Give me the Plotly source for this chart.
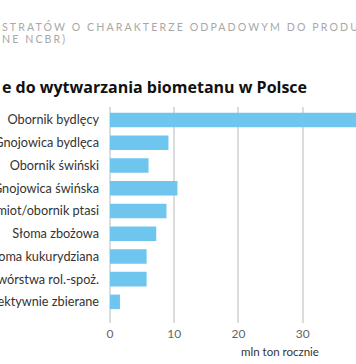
import plotly.graph_objects as go

categories = [
    "Obornik bydlęcy",
    "Gnojowica bydlęca",
    "Obornik świński",
    "Gnojowica świńska",
    "Pomiot/obornik ptasi",
    "Słoma zbożowa",
    "Słoma kukurydziana",
    "Odpady przetwórstwa rol.-spoż.",
    "Bioodpady selektywnie zbierane",
]
values = [42.0, 9.1, 6.0, 10.5, 8.8, 7.2, 5.7, 5.7, 1.55]
tick_vals = [0, 10, 20, 30, 40]
tick_text = ["0", "10", "20", "30", "40"]

header_l1 = "STRATÓW O CHARAKTERZE ODPADOWYM DO PRODUKCJI"
header_l2 = "NE NCBR)"
title_text = "e do wytwarzania biometanu w Polsce"
axis_title = "mln ton rocznie"

W, H = 356, 364
L, R = 110, 0
T, B = 107, 364 - 323
pw = W - L - R
ph = H - T - B

def px(x):
    return (x - L) / pw

def py(y):
    return (H - B - y) / ph

FONT = "Lato"

fig = go.Figure(go.Bar(
    x=values, y=categories, orientation="h",
    marker=dict(color="#6EC6EE", line=dict(width=0)),
    hoverinfo="skip",
))

fig.update_layout(
    width=W, height=H,
    margin=dict(l=L, r=R, t=T, b=B, pad=0, autoexpand=False),
    paper_bgcolor="white", plot_bgcolor="white",
    showlegend=False,
    bargap=0.36,
    font=dict(family=FONT, color="#333333", size=12.5),
    xaxis=dict(range=[0, 38.3], tickvals=tick_vals, ticktext=tick_text,
               automargin=False,
               showgrid=True, gridcolor="#dcdcdc", gridwidth=1.5,
               zeroline=True, zerolinecolor="#dcdcdc", zerolinewidth=1.5,
               showline=False, ticks="", ticklabelstandoff=2,
               tickfont=dict(size=12, color="#666666", family=FONT)),
    yaxis=dict(categoryorder="array", categoryarray=categories,
               automargin=False,
               range=[8.93, -0.573], showgrid=False, zeroline=False,
               showline=False, ticks="", ticklabelstandoff=10,
               tickfont=dict(size=12.7, color="#333333", family=FONT)),
    annotations=[
        dict(text='<span style="letter-spacing:2.1px">' + header_l1 + '</span>',
             xref="paper", yref="paper", x=px(0), y=py(26),
             xanchor="left", yanchor="middle", showarrow=False,
             font=dict(size=10.6, color="#a8a8a8", family=FONT)),
        dict(text='<span style="letter-spacing:2.1px">' + header_l2 + '</span>',
             xref="paper", yref="paper", x=px(0), y=py(38.5),
             xanchor="left", yanchor="middle", showarrow=False,
             font=dict(size=10.6, color="#a8a8a8", family=FONT)),
        dict(text="<b>" + title_text + "</b>",
             xref="paper", yref="paper", x=px(0), y=py(87),
             xanchor="left", yanchor="middle", showarrow=False,
             font=dict(size=16, color="#111111", family="Open Sans")),
        dict(text=axis_title,
             xref="paper", yref="paper", x=px(280), y=py(351),
             xanchor="center", yanchor="middle", showarrow=False,
             font=dict(size=11.5, color="#333333", family=FONT)),
    ],
)

fig.write_html("out.html", config={"displayModeBar": False},
               post_script="document.body.style.margin='0';")
